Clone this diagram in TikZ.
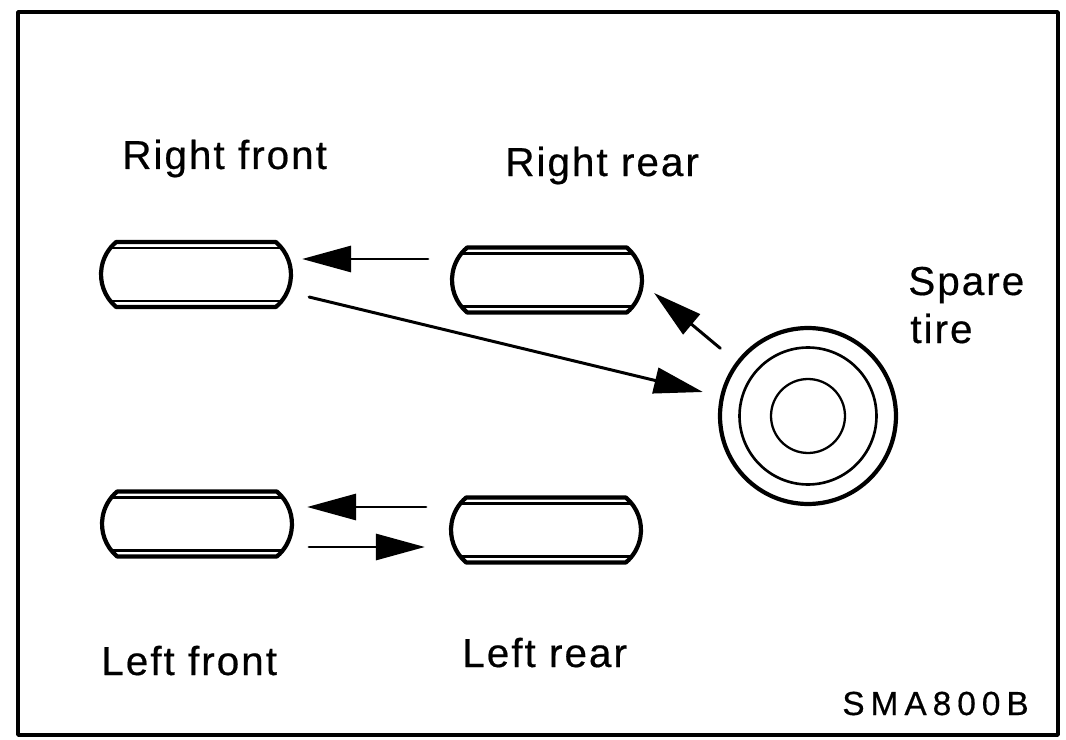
\documentclass[tikz,border=0pt]{standalone}
\usepackage{fontspec}
\newfontfamily\labelfont[LetterSpace=5,FakeBold=0.5]{Liberation Sans}
\newfontfamily\codefont[LetterSpace=18,FakeBold=0.5]{Liberation Sans}
\usetikzlibrary{arrows.meta,shapes.misc}
\tikzset{
  tire/.style={rounded rectangle,rounded rectangle arc length=100,draw,line width=2.4pt,
    minimum width=3.8cm,minimum height=1.3cm,inner sep=0pt,
    path picture={\draw[line width=1.5pt]
      ([yshift=-0.12cm]path picture bounding box.north west) -- ([yshift=-0.12cm]path picture bounding box.north east)
      ([yshift=0.12cm]path picture bounding box.south west) -- ([yshift=0.12cm]path picture bounding box.south east);}},
  rotarrow/.style={-{Triangle[length=0.98cm,width=0.52cm]},line width=1.7pt},
  tirelabel/.style={anchor=base west,inner sep=0pt,font=\labelfont\fontsize{23}{27}\selectfont}
}
\begin{document}
\begin{tikzpicture}[x=0.02cm,y=-0.02cm,line cap=round,line join=round]
\useasboundingbox (0,0) rectangle (1066,740);
\draw[line width=2pt] (18,12) rectangle (1058,735);
\node[tire] (rf) at (196,274.5) {};
\node[tire] (rr) at (547,280) {};
\node[tire] (lf) at (197,524) {};
\node[tire] (lr) at (546,530) {};
\node[draw,circle,line width=2.4pt,minimum size=3.52cm,inner sep=0pt] (spare) at (808,416) {};
\draw[line width=1.5pt] (spare.center) circle[radius=1.37cm];
\draw[line width=1.3pt] (spare.center) circle[radius=0.74cm];
\node[tirelabel] (rftext) at (122,169) {Right front};
\node[tirelabel] (rrtext) at (505,176) {Right rear};
\node[tirelabel] (sparetext) at (908,295) {Spare};
\node[tirelabel] (tiretext) at (910,343) {tire};
\node[tirelabel] (lftext) at (101,675) {Left front};
\node[tirelabel] (lrtext) at (462,667) {Left rear};
\node[tirelabel,font=\codefont\fontsize{19}{23}\selectfont] (code) at (842,715) {SMA800B};
\draw[rotarrow] ([shift={(-22,-21)}]rr.west) -- ([shift={(9,-15.5)}]rf.east);
\draw[rotarrow] ([shift={(16,22.5)}]rf.east) -- ([shift={(-15,-24)}]spare.west);
\draw[rotarrow] ([shift={(-24,-4)}]spare.north west) -- ([shift={(10,13)}]rr.east);
\draw[rotarrow] ([shift={(-23,-23)}]lr.west) -- ([shift={(13,-17)}]lf.east);
\draw[rotarrow] ([shift={(15,23)}]lf.east) -- ([shift={(-24,17)}]lr.west);
\end{tikzpicture}
\end{document}
